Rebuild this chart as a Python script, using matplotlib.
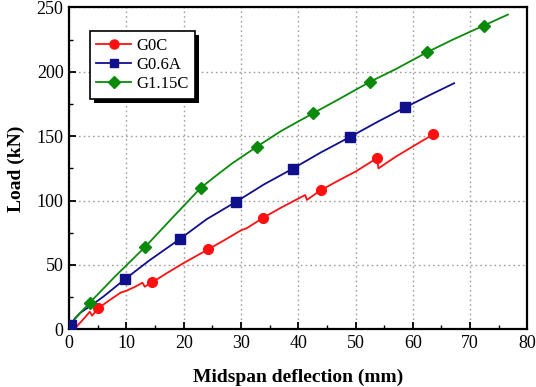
import matplotlib
matplotlib.use("Agg")
import matplotlib.pyplot as plt
from matplotlib.ticker import MultipleLocator
from matplotlib.patches import Rectangle

plt.rcParams['font.family'] = ['Liberation Serif', 'DejaVu Serif']

# ---- data ----
g0c_x = [1.0, 2.0, 3.0, 3.6, 4.0, 5.07, 7.0, 9.0, 10.0, 11.5, 12.8, 13.2, 14.5, 17.0, 20.0, 24.3, 27.0, 30.1, 31.0, 33.9, 37.0, 41.2, 41.5, 43.9, 47.0, 50.0, 53.7, 54.0, 57.0, 60.0, 63.6]
g0c_y = [0.7, 5.5, 10.5, 13.7, 10.6, 16.3, 22.5, 28.5, 30.0, 33.0, 36.2, 33.1, 36.5, 43.5, 51.5, 62.2, 69.0, 77.1, 78.5, 86.7, 94.5, 104.3, 100.5, 108.0, 115.5, 122.5, 132.8, 125.0, 134.0, 142.0, 151.5]
g0c_mx = [5.07, 14.5, 24.3, 33.9, 43.9, 53.7, 63.6]
g0c_my = [16.3, 36.5, 62.2, 86.7, 108.0, 132.8, 151.5]

g06a_x = [0.0, 0.35, 1.0, 2.0, 3.0, 4.0, 6.0, 9.7, 14.0, 19.35, 24.0, 29.2, 34.0, 39.05, 44.0, 48.95, 54.0, 58.7, 63.0, 67.2]
g06a_y = [0.0, 3.3, 8.5, 13.0, 16.0, 19.0, 25.5, 38.8, 53.5, 70.2, 85.5, 99.2, 112.5, 124.8, 137.5, 149.2, 161.5, 172.4, 182.0, 191.1]
g06a_mx = [0.35, 9.7, 19.35, 29.2, 39.05, 48.95, 58.7]
g06a_my = [3.3, 38.8, 70.2, 99.2, 124.8, 149.2, 172.4]

g115c_x = [0.0, 0.5, 1.0, 2.0, 3.6, 8.0, 13.2, 18.0, 23.0, 26.0, 28.5, 32.8, 37.0, 42.6, 47.0, 52.6, 57.0, 62.5, 67.0, 72.4, 76.6]
g115c_y = [0.0, 4.0, 8.0, 13.0, 20.7, 41.0, 63.7, 86.5, 110.0, 120.5, 129.0, 141.9, 154.0, 167.8, 178.5, 192.4, 202.0, 215.2, 225.0, 235.9, 244.4]
g115c_mx = [3.6, 13.2, 23.0, 32.8, 42.6, 52.6, 62.5, 72.4]
g115c_my = [20.7, 63.7, 110.0, 141.9, 167.8, 192.4, 215.2, 235.9]

series = [
    ("G0C", g0c_x, g0c_y, g0c_mx, g0c_my, "#ff1010", "o", 7),
    ("G0.6A", g06a_x, g06a_y, g06a_mx, g06a_my, "#10108c", "s", 6.5),
    ("G1.15C", g115c_x, g115c_y, g115c_mx, g115c_my, "#0a8a0a", "D", 6.5),
]

fig = plt.figure(figsize=(5.36, 3.87), dpi=100)
ax = fig.add_axes([0.129, 0.149, 0.855, 0.832])

handles = []
for name, x, y, mx, my, c, m, ms in series:
    ax.plot(x, y, color=c, lw=1.3, zorder=3)
    ax.plot(mx, my, linestyle="none", marker=m, color=c, ms=ms, zorder=4)
    h, = ax.plot([], [], color=c, lw=1.3, marker=m, ms=ms - 0.5, label=name)
    handles.append(h)

ax.set_xlim(0, 80)
ax.set_ylim(0, 250)
ax.xaxis.set_major_locator(MultipleLocator(10))
ax.xaxis.set_minor_locator(MultipleLocator(5))
ax.yaxis.set_major_locator(MultipleLocator(50))
ax.yaxis.set_minor_locator(MultipleLocator(25))
ax.tick_params(which="both", direction="in", top=False, right=False)
ax.tick_params(which="major", length=5, width=1.3, labelsize=13, pad=4)
ax.tick_params(which="minor", length=3, width=1.0)
ax.grid(True, which="major", color="#a0a0a0", linestyle=(0, (1.2, 2.2)), lw=1.0, zorder=0)
for s in ax.spines.values():
    s.set_linewidth(1.6)

ax.set_xlabel("Midspan deflection (mm)", fontsize=14, fontweight="bold", labelpad=12)
ax.set_ylabel("Load (kN)", fontsize=14, fontweight="bold", labelpad=8)

leg = ax.legend(handles=handles, loc="upper left", bbox_to_anchor=(0.045, 0.927),
                borderaxespad=0, frameon=True, fancybox=False, shadow=False, fontsize=12,
                handlelength=2.1, handletextpad=0.3, borderpad=0.4,
                labelspacing=0.2, edgecolor="black", framealpha=1.0)
leg.get_frame().set_linewidth(1.2)
leg.set_zorder(10)
fig.canvas.draw()
bb = leg.get_window_extent().transformed(fig.transFigure.inverted())
shadow = Rectangle((bb.x0 + 4 / 536, bb.y0 - 4 / 387), bb.width, bb.height,
                   transform=fig.transFigure, facecolor="black", edgecolor="none",
                   zorder=9, clip_on=False)
ax.add_patch(shadow)

fig.savefig("out.png", dpi=100)
